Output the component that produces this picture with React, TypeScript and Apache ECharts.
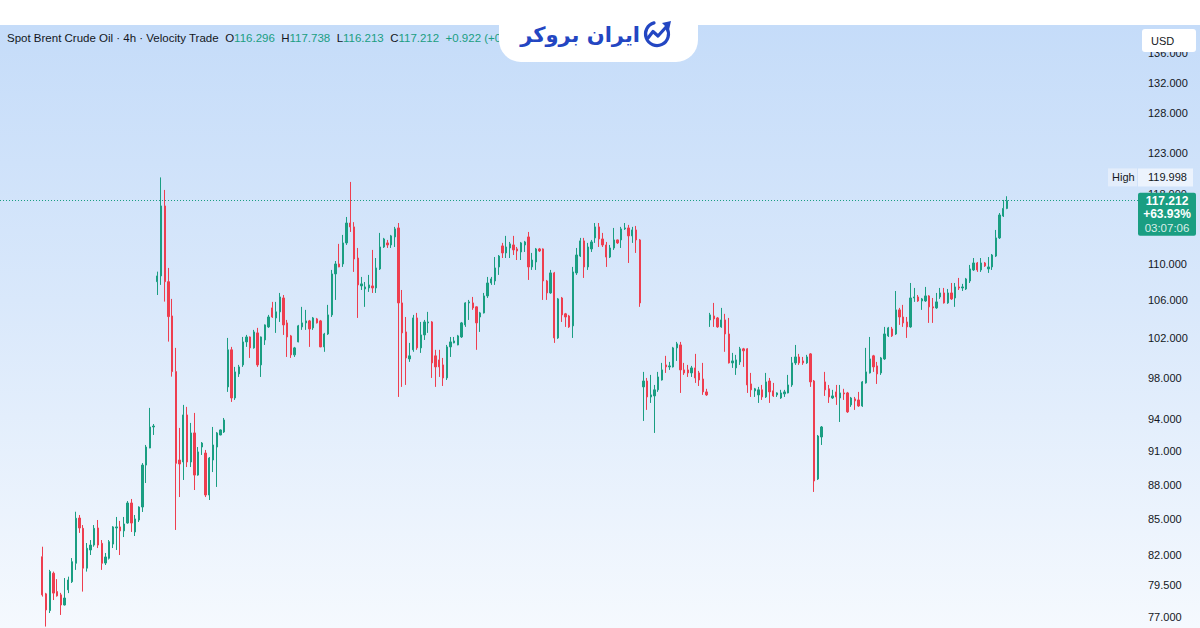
import React, { useEffect, useRef } from 'react';
import * as echarts from 'echarts';

// OHLC candles [open, close, low, high], 4h bars
const firstRally = [
  [81.83, 78.74, 78.6, 82.66], [78.82, 77.55, 76.26, 78.9], [77.5, 80.61, 77.31, 80.75], [80.48, 78.88, 78.33, 80.61],
  [79.0, 78.66, 78.6, 80.0], [78.74, 77.94, 77.16, 78.9], [77.94, 78.49, 77.9, 80.09], [79.14, 79.93, 78.88, 80.2],
  [79.79, 81.42, 79.69, 81.72], [81.29, 85.07, 80.75, 85.63], [85.09, 84.24, 83.82, 85.35], [84.21, 80.89, 79.0, 84.49],
  [80.89, 82.53, 80.61, 82.97], [82.39, 82.8, 81.97, 83.22], [82.8, 84.21, 82.66, 84.49], [84.24, 82.8, 82.55, 84.92],
  [82.94, 81.29, 80.75, 83.22], [81.31, 81.81, 81.15, 82.14], [81.7, 83.08, 81.6, 83.22], [82.88, 84.33, 82.55, 84.4],
  [84.24, 84.33, 82.39, 85.18], [84.33, 83.99, 81.97, 84.84], [83.99, 84.58, 83.47, 85.18], [84.66, 86.39, 84.6, 86.56],
  [86.39, 84.66, 83.9, 86.74], [83.9, 85.01, 83.56, 85.35], [84.92, 86.04, 84.75, 86.1], [86.04, 89.76, 85.61, 89.94],
  [89.76, 91.41, 88.15, 91.6], [91.32, 93.28, 91.3, 95.09], [93.28, 93.37, 92.53, 93.56],
];

const spikeRun = [
  [108.01, 108.64, 106.57, 109.11], [108.64, 116.59, 107.66, 119.998], [116.59, 108.01, 105.86, 118.49], [108.01, 104.27, 101.67, 109.52],
  [104.34, 98.64, 98.14, 106.15], [98.64, 89.92, 84.07, 101.03], [90.22, 89.86, 86.91, 93.19], [90.04, 94.42, 88.42, 95.38],
  [94.42, 90.04, 89.58, 95.19], [90.04, 92.72, 89.58, 93.66], [92.72, 88.86, 87.53, 94.61], [88.86, 90.96, 88.8, 91.41],
  [91.41, 91.78, 90.68, 91.87], [90.86, 87.09, 86.91, 91.14], [87.09, 90.4, 86.65, 90.49], [90.22, 91.6, 89.13, 93.28],
  [91.41, 92.72, 87.8, 92.81], [92.53, 93.0, 92.5, 93.05], [92.81, 93.94, 92.72, 94.13],
];

const rangeRun = [
  [97.13, 100.83, 96.64, 102.05], [100.83, 96.05, 95.67, 101.13], [96.05, 98.61, 95.86, 99.11], [98.41, 99.11, 98.11, 99.31],
  [99.31, 101.64, 99.11, 102.15], [101.64, 102.15, 101.13, 102.36], [102.15, 101.03, 100.01, 102.2], [101.03, 102.67, 100.95, 102.88],
  [102.57, 99.31, 99.11, 103.09], [99.31, 102.15, 98.11, 102.2], [101.84, 103.4, 101.33, 103.45], [103.19, 104.23, 103.09, 104.45],
  [105.19, 104.23, 104.13, 105.83], [104.13, 104.77, 102.57, 105.83], [104.77, 106.36, 103.71, 106.79], [106.25, 103.4, 102.36, 106.57],
  [103.61, 102.15, 100.11, 103.92], [102.26, 100.32, 100.01, 102.36], [100.32, 101.03, 100.11, 101.13], [101.64, 103.3, 101.6, 103.4],
  [103.19, 103.61, 102.88, 105.3], [103.61, 103.82, 102.88, 104.98], [103.82, 102.98, 101.13, 103.92], [103.09, 104.13, 102.88, 104.23],
  [104.03, 103.61, 103.55, 104.13], [103.82, 101.13, 101.1, 103.92], [101.13, 102.46, 100.63, 102.57], [102.46, 104.45, 102.36, 105.51],
  [104.45, 108.86, 104.23, 109.3], [108.86, 109.96, 106.04, 110.29], [109.96, 109.63, 109.6, 112.21], [109.96, 112.32, 109.63, 113.23],
  [112.32, 114.6, 112.09, 115.3], [114.6, 114.15, 113.57, 119.45], [114.15, 110.51, 109.08, 114.7], [110.62, 107.66, 104.13, 111.75],
  [107.55, 107.77, 107.11, 108.53], [107.22, 107.44, 105.3, 107.98], [107.33, 107.66, 106.9, 108.75], [107.55, 107.33, 106.79, 111.53],
  [107.33, 109.52, 106.79, 110.62], [109.41, 111.86, 109.3, 113.46], [111.86, 112.77, 111.75, 112.89], [112.32, 112.09, 111.75, 112.66],
  [112.09, 113.12, 111.75, 113.23], [113.0, 113.92, 111.86, 114.15], [114.03, 105.72, 96.15, 114.6], [105.72, 102.57, 97.13, 107.11],
  [102.67, 100.01, 97.32, 104.23], [99.91, 100.22, 99.61, 101.54], [100.83, 104.13, 100.63, 104.45], [104.13, 101.03, 100.83, 104.66],
  [101.03, 102.36, 100.52, 103.71], [102.36, 103.71, 101.84, 103.92], [103.61, 103.71, 102.57, 104.77], [103.71, 99.51, 98.01, 103.8],
  [100.22, 99.11, 97.13, 100.83], [99.81, 99.11, 98.11, 100.83], [99.31, 98.01, 97.22, 100.01], [98.01, 101.13, 97.81, 101.33],
  [101.13, 101.64, 100.11, 102.15], [101.54, 101.74, 101.5, 102.15], [101.33, 102.26, 101.3, 102.36], [102.15, 103.61, 102.05, 103.71],
  [103.4, 105.72, 103.19, 105.8], [105.72, 105.83, 103.92, 106.04], [105.72, 105.19, 104.98, 106.36], [105.3, 103.61, 100.83, 105.35],
  [104.23, 104.66, 102.67, 104.77], [104.66, 106.47, 104.6, 106.79], [106.47, 107.87, 106.25, 108.53], [107.87, 108.31, 107.66, 108.53],
  [108.09, 109.52, 107.66, 110.73], [109.63, 110.84, 108.75, 110.96], [111.98, 111.19, 110.62, 112.32], [111.19, 111.86, 110.62, 113.12],
  [111.75, 112.21, 110.62, 112.43], [112.09, 111.53, 110.96, 113.12], [111.64, 111.41, 110.4, 111.86], [111.3, 112.32, 110.4, 112.43],
  [112.09, 112.43, 111.3, 112.55], [113.0, 109.63, 108.2, 113.57], [109.63, 110.4, 109.3, 111.19], [110.18, 111.64, 109.3, 111.75],
  [111.64, 111.41, 111.3, 111.75], [111.64, 108.09, 106.04, 111.7], [108.09, 106.79, 106.04, 108.2], [106.79, 108.97, 106.7, 109.3],
  [108.97, 102.05, 101.54, 109.08], [102.05, 106.15, 101.95, 106.25], [106.25, 104.45, 103.71, 106.36], [104.56, 104.23, 103.19, 104.66],
  [104.34, 103.19, 103.09, 104.45], [103.3, 109.08, 102.05, 109.63], [108.97, 110.96, 108.75, 111.75], [110.84, 112.55, 110.73, 112.89],
  [112.55, 109.63, 108.42, 112.89], [109.63, 111.86, 109.3, 112.32], [111.64, 112.43, 111.3, 112.66], [112.89, 114.15, 112.32, 114.6],
  [114.15, 112.77, 111.86, 114.6], [112.77, 112.09, 111.86, 113.46], [112.09, 110.73, 109.63, 112.43], [110.73, 111.75, 110.62, 112.09],
  [111.75, 112.66, 111.53, 114.03], [112.66, 112.32, 112.2, 112.7], [112.66, 113.92, 111.75, 114.15], [113.92, 114.03, 113.8, 114.6],
  [114.03, 113.12, 110.07, 114.38], [113.12, 113.8, 112.32, 114.15], [113.8, 112.66, 111.19, 114.26], [112.66, 105.72, 105.3, 112.77],
];

const dipRun = [
  [97.13, 97.71, 93.85, 98.61], [97.71, 96.15, 94.9, 98.01], [96.15, 96.35, 95.57, 98.31], [96.25, 96.84, 92.72, 97.32],
  [96.84, 98.11, 96.64, 98.61], [97.81, 98.81, 97.75, 99.51], [99.31, 99.11, 98.51, 100.22], [99.11, 99.21, 98.81, 99.61],
  [99.11, 101.03, 99.05, 101.13], [101.03, 101.44, 99.71, 101.64], [101.33, 98.81, 96.54, 101.64], [98.81, 98.51, 98.31, 99.51],
  [98.81, 98.51, 98.11, 99.31], [98.51, 99.01, 98.11, 99.21], [99.01, 98.01, 97.52, 100.42], [98.51, 97.81, 97.22, 98.71],
  [97.91, 96.64, 96.35, 99.51], [96.64, 96.35, 96.25, 96.94],
];

const reboundRun = [
  [103.92, 104.45, 103.19, 104.66], [104.34, 104.03, 103.19, 105.72], [104.13, 103.19, 103.1, 104.23], [103.19, 103.92, 103.1, 105.19],
  [103.92, 102.46, 100.63, 104.56], [102.46, 99.51, 99.45, 104.13], [99.51, 99.71, 99.01, 100.52], [99.01, 99.81, 98.31, 100.32],
  [99.61, 100.93, 99.31, 101.13], [100.93, 100.73, 99.11, 101.03], [100.93, 97.32, 96.54, 101.0], [97.42, 96.84, 96.15, 98.51],
  [96.74, 96.94, 96.15, 97.03], [96.35, 96.84, 95.57, 97.13], [96.84, 96.15, 95.86, 97.32], [96.15, 97.62, 96.05, 98.51],
  [97.71, 96.64, 95.57, 98.01], [96.74, 96.25, 96.15, 97.52], [96.35, 96.54, 96.15, 96.6], [96.05, 96.54, 95.96, 96.84],
  [96.45, 96.64, 96.15, 96.84], [96.54, 97.32, 96.5, 98.31], [97.32, 99.51, 97.13, 100.11], [99.51, 100.11, 99.31, 101.33],
  [100.11, 99.51, 99.31, 100.42], [99.71, 99.51, 99.31, 100.11], [99.51, 100.11, 99.41, 100.32], [100.42, 97.62, 97.13, 100.5],
  [97.71, 88.33, 87.36, 97.81], [88.51, 92.43, 88.42, 92.53], [92.34, 93.28, 91.6, 93.37],
];

const breakoutRun = [
  [97.62, 96.84, 96.25, 98.61], [96.94, 96.15, 95.57, 97.32], [96.05, 96.25, 95.96, 96.84], [96.64, 96.15, 95.38, 97.32],
  [96.05, 96.54, 93.75, 97.32], [96.54, 96.45, 95.86, 96.94], [96.54, 94.71, 94.61, 96.64], [95.38, 96.05, 95.19, 96.15],
  [95.96, 95.77, 94.9, 96.15], [95.86, 95.28, 95.19, 96.64], [95.28, 97.62, 95.19, 97.71], [97.52, 98.61, 97.45, 101.03],
  [98.51, 99.91, 98.45, 102.15], [100.22, 99.11, 98.61, 100.32], [99.21, 98.41, 97.42, 99.61], [98.51, 100.01, 98.31, 100.11],
  [99.91, 102.46, 99.81, 103.19], [102.26, 103.09, 102.15, 103.19], [102.98, 102.26, 102.15, 103.19], [102.46, 104.98, 102.36, 107.0],
  [104.98, 104.23, 103.4, 105.19], [104.23, 103.61, 103.19, 105.51], [103.71, 103.19, 102.05, 104.23], [103.19, 106.25, 103.1, 107.87],
  [106.25, 106.36, 105.83, 107.33], [106.36, 105.93, 105.83, 106.57], [105.93, 106.15, 104.98, 106.25], [105.93, 106.47, 105.83, 107.44],
  [106.47, 105.3, 103.61, 106.55], [105.3, 105.19, 103.61, 106.25], [105.19, 105.83, 105.09, 106.79], [106.36, 106.79, 106.15, 107.33],
  [106.79, 105.72, 105.65, 107.33], [105.72, 106.79, 105.62, 107.22], [106.79, 106.15, 106.04, 107.87], [106.25, 107.44, 105.3, 107.87],
  [107.44, 107.33, 107.11, 108.42], [107.33, 107.44, 107.0, 107.77], [107.22, 108.31, 107.11, 108.42], [108.09, 109.41, 107.87, 109.85],
  [109.3, 110.07, 109.19, 110.62], [110.07, 109.3, 109.08, 110.18], [109.3, 110.07, 109.08, 110.62], [110.07, 109.74, 109.63, 110.18],
  [109.41, 109.63, 108.97, 110.73], [109.63, 110.96, 109.3, 111.07], [110.84, 112.89, 110.73, 113.8], [112.89, 115.53, 112.77, 115.76],
  [115.41, 116.296, 115.3, 117.3], [116.296, 117.212, 116.213, 117.738],
];

const priceTicks = [136, 132, 128, 123, 118, 110, 106, 102, 98, 94, 91, 88, 85, 82, 79.5, 77];
const lastPrice = 117.212;
const sessionHigh = 119.998;
const changePct = '+63.93%';
const countdown = '03:07:06';
const headerTitle = 'Spot Brent Crude Oil · 4h · Velocity Trade';
const headerOHLC = [['O', '116.296'], ['H', '117.738'], ['L', '116.213'], ['C', '117.212']];
const headerChange = '+0.922 (+0.';

const UP = '#1a9e82';
const DOWN = '#ee3e4f';
const TEXT = '#131722';
const BLUE = '#2346c2';
const FONT = '"Liberation Sans", Arial, sans-serif';

export default function App() {
  const ref = useRef<HTMLDivElement>(null);

  useEffect(() => {
    const chart = echarts.init(ref.current as HTMLDivElement, null, { renderer: 'svg' });
    const all = [...firstRally, ...spikeRun, ...rangeRun, ...dipRun, ...reboundRun, ...breakoutRun];
    const candles = all.map((c, i) => [i, c[0], c[1], c[2], c[3]]);

    chart.setOption({
      animation: false,
      backgroundColor: 'transparent',
      grid: { left: 0, right: 62, top: 25, bottom: 0, containLabel: false },
      xAxis: {
        type: 'value',
        min: -11.4,
        max: 295.3,
        show: false,
        splitLine: { show: false },
      },
      yAxis: {
        type: 'log',
        logBase: 10,
        min: 76.15,
        max: 139.95,
        position: 'right',
        show: false,
        splitLine: { show: false },
      },
      series: [
        {
          type: 'candlestick',
          data: candles,
          barWidth: 1.8,
          itemStyle: {
            color: UP,
            color0: DOWN,
            borderColor: UP,
            borderColor0: DOWN,
            borderWidth: 1,
          },
          markLine: {
            silent: true,
            symbol: ['none', 'none'],
            label: { show: false },
            lineStyle: { color: UP, type: [1, 2], width: 1 },
            data: [{ yAxis: lastPrice }],
          },
        },
      ],
    });

    const py = (v: number) => chart.convertToPixel({ yAxisIndex: 0 }, v) as number;
    const yLast = py(lastPrice);
    const yHigh = py(sessionHigh);

    const tickTexts = priceTicks.map((v) => ({
      type: 'text',
      z: 10,
      x: 1148,
      y: py(v),
      style: { text: v.toFixed(3), fill: TEXT, font: `11px ${FONT}`, verticalAlign: 'middle' },
    }));

    let rich = `{t|${headerTitle}}`;
    headerOHLC.forEach(([k, v]) => {
      rich += `  {k|${k}}{v|${v}}`;
    });
    rich += `  {v|${headerChange}}`;

    chart.setOption({
      graphic: {
        elements: [
          ...tickTexts,
          {
            type: 'text', z: 20, x: 7, y: 38,
            style: {
              text: rich, verticalAlign: 'middle', font: `11.5px ${FONT}`, fill: TEXT,
              rich: {
                t: { fill: TEXT, font: `11.5px ${FONT}` },
                k: { fill: TEXT, font: `11.5px ${FONT}` },
                v: { fill: UP, font: `11.5px ${FONT}` },
              },
            },
          },
          // logo tab
          {
            type: 'rect', z: 30,
            shape: { x: 499, y: -20, width: 199, height: 82, r: [0, 0, 22, 22] },
            style: { fill: '#ffffff' },
          },
          {
            type: 'text', z: 31, x: 640, y: 35,
            style: { text: 'ایران بروکر', fill: BLUE, font: `bold 21px "DejaVu Sans", sans-serif`, align: 'right', verticalAlign: 'middle' },
          },
          {
            type: 'arc', z: 31,
            shape: { cx: 657, cy: 34, r: 11.5, startAngle: -0.55, endAngle: 4.45, clockwise: true },
            style: { stroke: BLUE, lineWidth: 3.2, fill: 'none', lineCap: 'round' },
          },
          {
            type: 'polyline', z: 31,
            shape: { points: [[648, 38], [653, 31.5], [658, 36], [667, 26]] },
            style: { stroke: BLUE, lineWidth: 3.2, fill: 'none', lineCap: 'round', lineJoin: 'round' },
          },
          {
            type: 'polygon', z: 31,
            shape: { points: [[671, 21], [662, 23], [669, 30]] },
            style: { fill: BLUE },
          },
          // USD box
          {
            type: 'rect', z: 40,
            shape: { x: 1142, y: 29, width: 54, height: 23, r: 3 },
            style: { fill: '#ffffff' },
          },
          {
            type: 'text', z: 41, x: 1151, y: 41,
            style: { text: 'USD', fill: TEXT, font: `11px ${FONT}`, verticalAlign: 'middle' },
          },
          // High label
          {
            type: 'rect', z: 40,
            shape: { x: 1108, y: yHigh - 9, width: 29, height: 18 },
            style: { fill: '#e3edfb' },
          },
          {
            type: 'rect', z: 40,
            shape: { x: 1138, y: yHigh - 9, width: 55, height: 18 },
            style: { fill: '#ecf3fd' },
          },
          {
            type: 'text', z: 41, x: 1112, y: yHigh,
            style: { text: 'High', fill: TEXT, font: `11px ${FONT}`, verticalAlign: 'middle' },
          },
          {
            type: 'text', z: 41, x: 1148, y: yHigh,
            style: { text: sessionHigh.toFixed(3), fill: TEXT, font: `11px ${FONT}`, verticalAlign: 'middle' },
          },
          // last price box
          {
            type: 'rect', z: 40,
            shape: { x: 1138, y: yLast - 8, width: 58, height: 43, r: 2 },
            style: { fill: UP },
          },
          {
            type: 'text', z: 41, x: 1167, y: yLast,
            style: { text: lastPrice.toFixed(3), fill: '#ffffff', font: `bold 12px ${FONT}`, align: 'center', verticalAlign: 'middle' },
          },
          {
            type: 'text', z: 41, x: 1167, y: yLast + 13.5,
            style: { text: changePct, fill: '#ffffff', font: `bold 12px ${FONT}`, align: 'center', verticalAlign: 'middle' },
          },
          {
            type: 'text', z: 41, x: 1167, y: yLast + 27,
            style: { text: countdown, fill: 'rgba(255,255,255,0.85)', font: `11.5px ${FONT}`, align: 'center', verticalAlign: 'middle' },
          },
        ],
      },
    });

    return () => chart.dispose();
  }, []);

  return (
    <div
      ref={ref}
      style={{
        position: 'fixed',
        left: 0,
        top: 0,
        width: 1200,
        height: 628,
        background: 'linear-gradient(to bottom, #ffffff 0px, #ffffff 25px, #c5dcf9 25px, #d9e8fb 300px, #f5f9fe 628px)',
      }}
    />
  );
}
